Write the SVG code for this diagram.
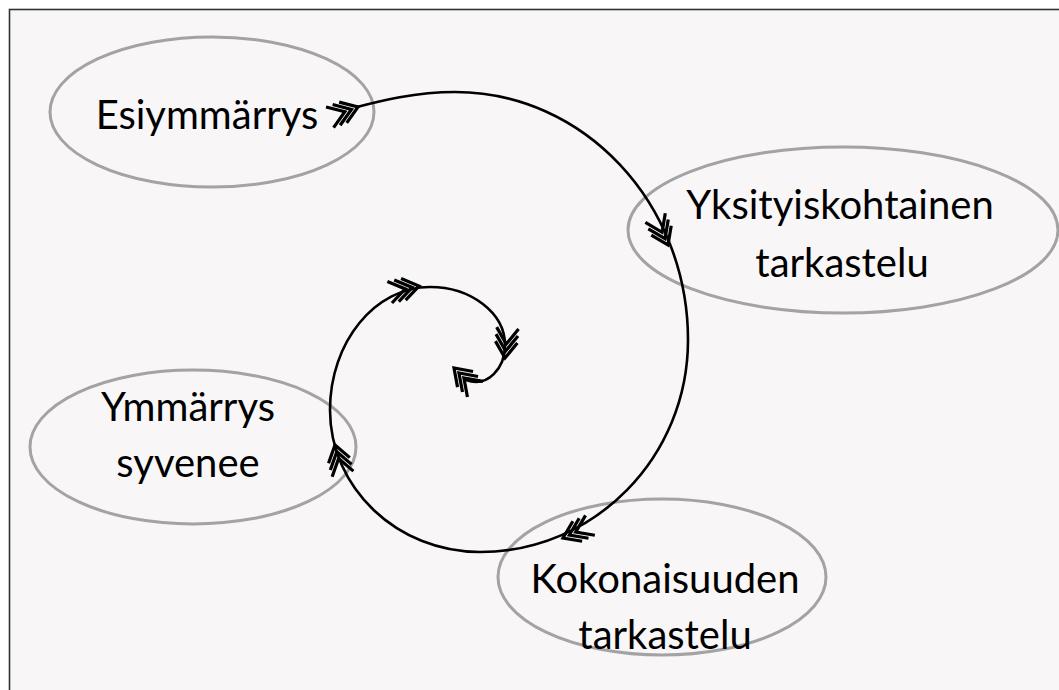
<svg xmlns="http://www.w3.org/2000/svg" width="1059" height="690" viewBox="0 0 1059 690">
  <style>
    .oval { fill: none; stroke: #a3a3a3; stroke-width: 3; }
    .label { font-family: Lato, "Open Sans", "Liberation Sans", sans-serif; font-size: 40px; fill: #000; text-anchor: middle; }
    .spiral { fill: none; stroke: #000; stroke-width: 2.6; stroke-linecap: round; }
    .feather { fill: none; stroke: #000; stroke-width: 3.2; stroke-linecap: butt; }
  </style>
  <defs>
    <!-- triple chevron fletching, pointing along +x with front tip at origin -->
    <g id="fletch" class="feather">
      <polyline points="-16,-11 0,0 -16,11"/>
      <polyline points="-23,-11 -7,0 -23,11"/>
      <polyline points="-30,-11 -14,0 -30,11"/>
    </g>
  </defs>

  <rect x="0" y="0" width="1059" height="690" fill="#ffffff"/>
  <rect x="9.5" y="9.5" width="1070" height="700" fill="#f8f6f7" stroke="#333" stroke-width="1.6"/>

  <g id="node-esiymmarrys">
    <ellipse class="oval" cx="212" cy="112" rx="162" ry="75"/>
    <text class="label" x="207" y="129">Esiymmärrys</text>
  </g>

  <g id="node-yksityiskohtainen">
    <ellipse class="oval" cx="843" cy="230" rx="215" ry="83"/>
    <text class="label" x="840" y="219">Yksityiskohtainen</text>
    <text class="label" x="842" y="277">tarkastelu</text>
  </g>

  <g id="node-ymmarrys-syvenee">
    <ellipse class="oval" cx="193" cy="447" rx="163" ry="77"/>
    <text class="label" x="188" y="421">Ymmärrys</text>
    <text class="label" x="188" y="477">syvenee</text>
  </g>

  <g id="node-kokonaisuuden">
    <ellipse class="oval" cx="662" cy="577" rx="164" ry="78"/>
    <text class="label" x="665" y="593">Kokonaisuuden</text>
    <text class="label" x="665" y="649">tarkastelu</text>
  </g>

  <g id="connectors">
    <path class="spiral" d="M357,107 C380,101 415,92 455,92
      C584,92 688,203 688,340
      C688,457 595,552 480,552
      C397,552 330,488 330,410
      C330,342 375,287 430,287
      C471,287 505,313 505,345
      C505,368 488,388 466,380"/>
    <use href="#fletch" transform="translate(358,107) rotate(-20)"/>
    <use href="#fletch" transform="translate(668,245) rotate(65)"/>
    <use href="#fletch" transform="translate(563,538) rotate(155)"/>
    <use href="#fletch" transform="translate(335,445) rotate(-105)"/>
    <use href="#fletch" transform="translate(419,286) rotate(-12)"/>
    <use href="#fletch" transform="translate(505,358) rotate(95)"/>
    <use href="#fletch" transform="translate(454,368) rotate(225)"/>
  </g>
</svg>
